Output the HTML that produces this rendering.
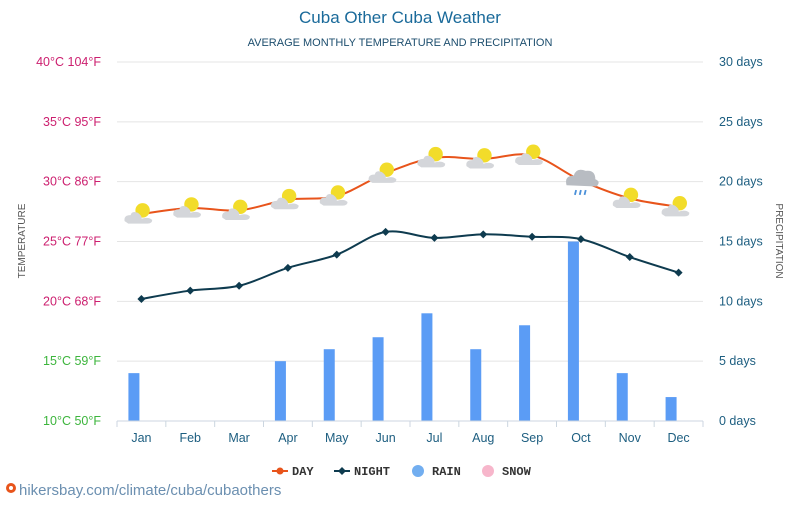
<!DOCTYPE html>
<html><head><meta charset="utf-8"><style>
body{margin:0;background:#fff;font-family:"Liberation Sans",sans-serif;}
svg text{font-family:"Liberation Sans",sans-serif;}
</style></head><body>
<svg id="chart" width="800" height="500" xmlns="http://www.w3.org/2000/svg">
<text x="400" y="23" text-anchor="middle" font-size="17" fill="#1a6a9a">Cuba Other Cuba Weather</text>
<text x="400" y="46" text-anchor="middle" font-size="11" fill="#1d4e6e">AVERAGE MONTHLY TEMPERATURE AND PRECIPITATION</text>
<text transform="translate(25,241) rotate(-90)" text-anchor="middle" font-size="10" fill="#555">TEMPERATURE</text>
<text transform="translate(776,241) rotate(90)" text-anchor="middle" font-size="10" fill="#555">PRECIPITATION</text>
<g id="grid"></g><g id="bars"></g><g id="lines"></g><g id="icons"></g><g id="axes"></g>
<g font-size="12" font-weight="bold" fill="#333">
<g><line x1="272" y1="471" x2="288" y2="471" stroke="#e8541b" stroke-width="2"/><circle cx="280" cy="471" r="3.5" fill="#e8541b"/><text x="292" y="475" style="font-family:'Liberation Mono',monospace">DAY</text></g>
<g><line x1="334" y1="471" x2="350" y2="471" stroke="#0e3b4f" stroke-width="2"/><path d="M342 467 L346 471 L342 475 L338 471Z" fill="#0e3b4f"/><text x="354" y="475" style="font-family:'Liberation Mono',monospace">NIGHT</text></g>
<g><circle cx="418" cy="471" r="6" fill="#72aef0"/><text x="432" y="475" style="font-family:'Liberation Mono',monospace">RAIN</text></g>
<g><circle cx="488" cy="471" r="6" fill="#f7b6cb"/><text x="502" y="475" style="font-family:'Liberation Mono',monospace">SNOW</text></g>
</g>
<g><circle cx="11" cy="488" r="5" fill="#e8541b"/><circle cx="11" cy="488" r="2" fill="#fff"/><text x="19" y="495" font-size="15" fill="#6b8fb0">hikersbay.com/climate/cuba/cubaothers</text></g>
</svg>
<script>
const months=["Jan","Feb","Mar","Apr","May","Jun","Jul","Aug","Sep","Oct","Nov","Dec"];
const dayTemps=[27.3,27.8,27.6,28.5,28.8,30.7,32.0,31.9,32.2,30.1,28.6,27.9];
const nightTemps=[20.2,20.9,21.3,22.8,23.9,25.8,25.3,25.6,25.4,25.2,23.7,22.4];
const rainDays=[4,0,0,5,6,7,9,6,8,15,4,2];
const tempTicksC=[10,15,20,25,30,35,40];
const tempTicksF=[50,59,68,77,86,95,104];
const rainTicks=[0,5,10,15,20,25,30];
const tickColors=["#3db53d","#3db53d","#cc1f6f","#cc1f6f","#cc1f6f","#cc1f6f","#cc1f6f"];
const NS="http://www.w3.org/2000/svg";
const X0=117,X1=703,Y0=421,Y1=62;
const bw=(X1-X0)/12;
const xc=i=>X0+bw*(i+0.5);
const yT=t=>Y0-(t-10)*(Y0-Y1)/30;
const yR=d=>Y0-d*(Y0-Y1)/30;
function mk(tag,attrs,parent){const e=document.createElementNS(NS,tag);for(const k in attrs)e.setAttribute(k,attrs[k]);document.getElementById(parent).appendChild(e);return e;}
tempTicksC.forEach((c,i)=>{
  const y=yT(c);
  const g=mk("line",{x1:X0,x2:X1,y1:y,y2:y,stroke:"#e4e4e4","stroke-width":1},"grid");
  
  
  const t=mk("text",{x:101,y:y+4,"text-anchor":"end","font-size":12.5,fill:tickColors[i]},"axes");
  t.textContent=c+"°C "+tempTicksF[i]+"°F";
  
  
});
rainTicks.forEach(d=>{
  const t=mk("text",{x:719,y:yR(d)+4,"font-size":12.5,fill:"#1d5e80"},"axes");
  t.textContent=d+" days";
  
  
});
const ax=mk("line",{x1:X0,x2:X1,y1:Y0,y2:Y0,stroke:"#ccd6e0"},"axes");


for(let i=0;i<=12;i++){const l=mk("line",{x1:X0+bw*i,x2:X0+bw*i,y1:Y0,y2:Y0+6,stroke:"#ccd6e0"},"axes");
  
  }
months.forEach((m,i)=>{
  const t=mk("text",{x:xc(i),y:442,"text-anchor":"middle","font-size":12.5,fill:"#1d5e80"},"axes");
  t.textContent=m;
  
  
  if(rainDays[i]>0){
    const b=mk("rect",{x:xc(i)-13,y:yR(rainDays[i]),width:11,height:Y0-yR(rainDays[i]),fill:"#5b9cf5"},"bars");
    
    
  }
});
function smooth(pts){let d="M"+pts[0][0]+" "+pts[0][1];
  for(let i=0;i<pts.length-1;i++){const p0=pts[i-1]||pts[i],p1=pts[i],p2=pts[i+1],p3=pts[i+2]||p2;
    const c1=[p1[0]+(p2[0]-p0[0])/6,p1[1]+(p2[1]-p0[1])/6],c2=[p2[0]-(p3[0]-p1[0])/6,p2[1]-(p3[1]-p1[1])/6];
    d+=` C${c1[0]} ${c1[1]} ${c2[0]} ${c2[1]} ${p2[0]} ${p2[1]}`;}return d;}
const dp=dayTemps.map((t,i)=>[xc(i),yT(t)]);
const np=nightTemps.map((t,i)=>[xc(i),yT(t)]);
const dl=mk("path",{d:smooth(dp),fill:"none",stroke:"#e8541b","stroke-width":2},"lines");


const nl=mk("path",{d:smooth(np),fill:"none",stroke:"#0e3b4f","stroke-width":2},"lines");


np.forEach(p=>{const m=mk("path",{d:`M${p[0]} ${p[1]-4}L${p[0]+4} ${p[1]}L${p[0]} ${p[1]+4}L${p[0]-4} ${p[1]}Z`,fill:"#0e3b4f"},"lines");
  
  });
dp.forEach((p,i)=>{
  const g=mk("g",{transform:`translate(${p[0]},${p[1]}) scale(1.2)`},"icons");
  
  
  const rainy=i===9;
  if(!rainy){const s=document.createElementNS(NS,"circle");s.setAttribute("cx",1);s.setAttribute("cy",-3);s.setAttribute("r",6);s.setAttribute("fill","#f2dc2a");g.appendChild(s);}
  const c=document.createElementNS(NS,"path");
  c.setAttribute("d",rainy?"M-12 4 Q-14 -4 -6 -4 Q-4 -11 4 -8 Q12 -9 12 -1 Q17 1 13 5 Z":"M-14 6 Q-15 1 -9 1 Q-8 -3 -3 -1 Q1 2 0 4 Q6 2 9 5 Q9 8 5 8 L-11 8 Z");
  c.setAttribute("fill",rainy?"#b8bcc2":"#d4d6da");
  g.appendChild(c);
  if(rainy){for(let k=0;k<3;k++){const r=document.createElementNS(NS,"line");r.setAttribute("x1",-4+k*4);r.setAttribute("x2",-5+k*4);r.setAttribute("y1",8);r.setAttribute("y2",12);r.setAttribute("stroke","#4a90d9");r.setAttribute("stroke-width",1.5);g.appendChild(r);}}
});
</script>
</body></html>
